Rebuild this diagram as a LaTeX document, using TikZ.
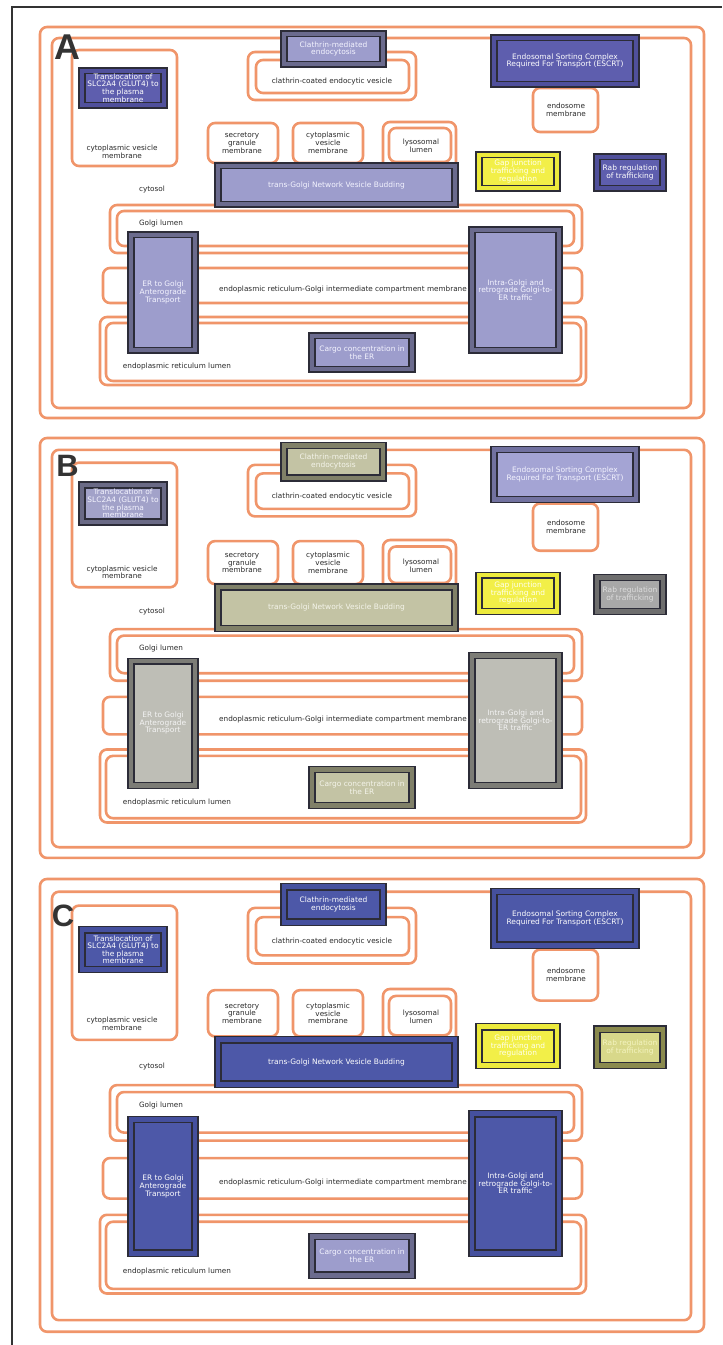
\documentclass[tikz,border=0pt]{standalone}
\usepackage{fontspec}
\setmainfont{DejaVu Sans}
\newfontfamily\letterfont{Liberation Sans}
\definecolor{orangeC}{HTML}{F0956A}
\definecolor{labelC}{HTML}{2A2A2A}
\definecolor{boxline}{HTML}{2C2C38}
\definecolor{framec}{HTML}{333333}
% schemes: band / fill / text
\definecolor{purpband}{HTML}{50509C}\definecolor{purpfill}{HTML}{5E5EAE}\definecolor{purptext}{HTML}{FFFFFF}
\definecolor{lavband}{HTML}{6B6B8E}\definecolor{lavfill}{HTML}{9D9DCC}\definecolor{lavtext}{HTML}{F4F4FF}
\definecolor{yelband}{HTML}{ECEA3C}\definecolor{yelfill}{HTML}{F2EF48}\definecolor{yeltext}{HTML}{FFFFF0}
\definecolor{lavBband}{HTML}{6A6A86}\definecolor{lavBfill}{HTML}{A2A2C9}\definecolor{lavBtext}{HTML}{F4F4FF}
\definecolor{lavEband}{HTML}{7272A0}\definecolor{lavEfill}{HTML}{A4A4D4}\definecolor{lavEtext}{HTML}{F4F4FF}
\definecolor{oliveband}{HTML}{808068}\definecolor{olivefill}{HTML}{C3C3A4}\definecolor{olivetext}{HTML}{F4F4EA}
\definecolor{graybband}{HTML}{7C7C76}\definecolor{graybfill}{HTML}{BEBEB6}\definecolor{graybtext}{HTML}{F4F4F4}
\definecolor{rabgband}{HTML}{6E6E6E}\definecolor{rabgfill}{HTML}{A8A8A8}\definecolor{rabgtext}{HTML}{DDDDDD}
\definecolor{blueband}{HTML}{45509E}\definecolor{bluefill}{HTML}{4D58A8}\definecolor{bluetext}{HTML}{FFFFFF}
\definecolor{khakiband}{HTML}{8A8A4E}\definecolor{khakifill}{HTML}{D8D88A}\definecolor{khakitext}{HTML}{F4F4C0}
\tikzset{
  comp/.style={draw=orangeC, line width=2.6bp, rounded corners=7bp},
  lbl/.style={font=\fontsize{7.3}{7.8}\selectfont, text=labelC, align=center, inner sep=0pt},
  btxt/.style={font=\fontsize{7.5}{7.6}\selectfont, align=center, inner sep=0pt},
  panelletter/.style={font=\letterfont\bfseries, text=framec, inner sep=0pt}
}
\def\pn{A}
% x1 y1 x2 y2 scheme text name
\newcommand\pbox[7]{%
  \filldraw[fill=#5band, draw=boxline, line width=1.2bp] (#1,#2) rectangle (#3,#4);
  \filldraw[fill=#5fill, draw=boxline, line width=1.4bp] ({#1+6},{#2+5.5}) rectangle ({#3-6},{#4-5.5});
  \node[btxt, text=#5text] (\pn-#7) at ({(#1+#3)/2},{(#2+#4)/2}) {#6};
}
\newcommand\drawpanel[9]{%
  \draw[comp] (40,27) rectangle (704,418);
  \draw[comp] (52,38) rectangle (691,408);
  \draw[comp] (72,50) rectangle (177,166);
  \node[lbl] (\pn-cvm) at (122,152) {cytoplasmic vesicle\\membrane};
  \draw[comp] (248,52) rectangle (416,100);
  \draw[comp] (256,60) rectangle (409,93);
  \node[lbl] (\pn-ccv) at (332,81) {clathrin-coated endocytic vesicle};
  \draw[comp] (208,123) rectangle (278,163);
  \node[lbl] (\pn-sgm) at (242,143) {secretory\\granule\\membrane};
  \draw[comp] (293,123) rectangle (363,163);
  \node[lbl] (\pn-cvm2) at (328,143) {cytoplasmic\\vesicle\\membrane};
  \draw[comp] (383,122) rectangle (456,172);
  \draw[comp] (389,128) rectangle (451,162);
  \node[lbl] (\pn-lys) at (421,146) {lysosomal\\lumen};
  \draw[comp] (533,88) rectangle (598,132);
  \node[lbl] (\pn-endo) at (566,110) {endosome\\membrane};
  \node[lbl] (\pn-cyto) at (152,189) {cytosol};
  \draw[comp] (110,205) rectangle (582,253);
  \draw[comp] (117,211) rectangle (574,246);
  \node[lbl] (\pn-golgi) at (161,223) {Golgi lumen};
  \draw[comp] (103,268) rectangle (582,303);
  \node[lbl] (\pn-ergic) at (343,289) {endoplasmic reticulum-Golgi intermediate compartment membrane};
  \draw[comp] (100,317) rectangle (586,385);
  \draw[comp] (106,323) rectangle (581,381);
  \node[lbl] (\pn-erl) at (177,366) {endoplasmic reticulum lumen};
  \pbox{79}{68}{167}{108}{#1}{Translocation of\\SLC2A4 (GLUT4) to\\the plasma\\membrane}{glut}
  \pbox{281}{31}{386}{67}{#2}{Clathrin-mediated\\endocytosis}{clath}
  \pbox{491}{35}{639}{87}{#3}{Endosomal Sorting Complex\\Required For Transport (ESCRT)}{escrt}
  \pbox{215}{163}{458}{207}{#4}{trans-Golgi Network Vesicle Budding}{tgn}
  \pbox{476}{152}{560}{191}{#5}{Gap junction\\trafficking and\\regulation}{gap}
  \pbox{594}{154}{666}{191}{#6}{Rab regulation\\of trafficking}{rab}
  \pbox{128}{232}{198}{353}{#7}{ER to Golgi\\Anterograde\\Transport}{ertg}
  \pbox{469}{227}{562}{353}{#8}{Intra-Golgi and\\retrograde Golgi-to-\\ER traffic}{intra}
  \pbox{309}{333}{415}{372}{#9}{Cargo concentration in\\the ER}{cargo}
}
\begin{document}
\begin{tikzpicture}[x=1bp,y=-1bp]
\useasboundingbox (0,0) rectangle (722,1345);
\fill[white] (0,0) rectangle (722,1345);
\draw[framec, line width=1.5bp] (12,1345) -- (12,7) -- (722,7);
\def\pn{A}
\begin{scope}
  \drawpanel{purp}{lav}{purp}{lav}{yel}{purp}{lav}{lav}{lav}
\end{scope}
\def\pn{B}
\begin{scope}[shift={(0,409)}, yscale=1.074]
  \drawpanel{lavB}{olive}{lavE}{olive}{yel}{rabg}{grayb}{grayb}{olive}
\end{scope}
\def\pn{C}
\begin{scope}[shift={(0,847.7)}, yscale=1.158]
  \drawpanel{blue}{blue}{blue}{blue}{yel}{khaki}{blue}{blue}{lav}
\end{scope}
\node[panelletter, font=\letterfont\bfseries\fontsize{36}{36}\selectfont] (LA) at (67.5,47) {A};
\node[panelletter, font=\letterfont\bfseries\fontsize{31}{31}\selectfont] (LB) at (67.5,466) {B};
\node[panelletter, font=\letterfont\bfseries\fontsize{31}{31}\selectfont] (LC) at (63,916) {C};
\end{tikzpicture}
\end{document}
